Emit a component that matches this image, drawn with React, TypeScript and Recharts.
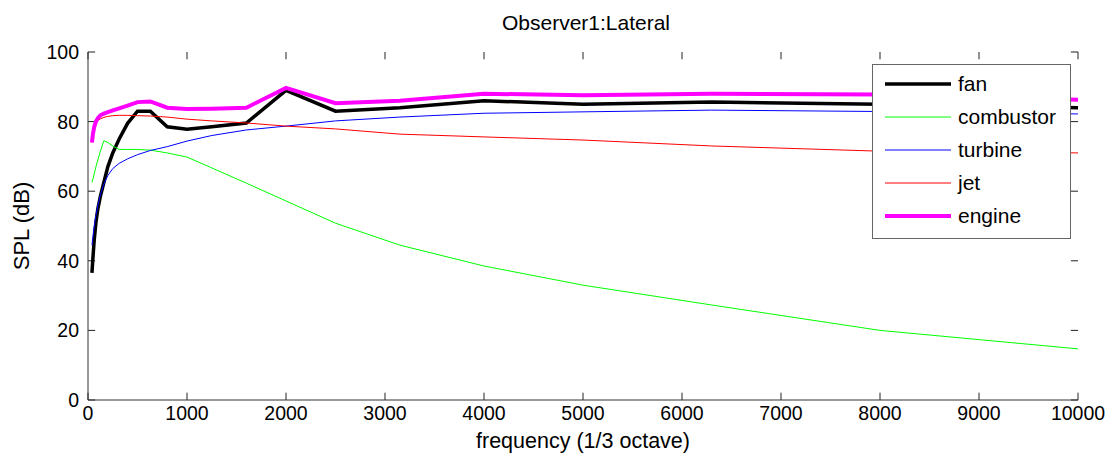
import React from "react";
import { LineChart, Line, XAxis, YAxis, ReferenceLine } from "recharts";

// 1/3 octave band centre frequencies (Hz)
const freqs = [40, 50, 63, 80, 100, 125, 160, 200, 250, 315, 400, 500, 630, 800, 1000, 1250, 1600, 2000, 2500, 3150, 4000, 5000, 6300, 8000, 10000];

const fan = [36.5, 41, 46, 51, 55, 58.5, 62.5, 67, 71, 75, 79.5, 83, 83, 78.5, 77.8, 78.5, 79.6, 89, 83, 84, 86, 85, 85.6, 85, 84];
const combustor = [62.5, 63.5, 65, 67, 69, 71.5, 74.5, 74, 73, 72, 72, 72, 71.8, 71, 69.8, 66.7, 62.3, 57.2, 50.8, 44.5, 38.5, 33, 27.3, 20, 14.7];
const turbine = [44.5, 47, 50, 53, 56, 59, 62, 64.5, 66.5, 68, 69.3, 70.5, 71.7, 72.8, 74.4, 76, 77.6, 78.7, 80.2, 81.3, 82.4, 82.8, 83.3, 82.9, 82.2];
const jet = [74, 76, 78, 79.5, 80.3, 80.8, 81.2, 81.5, 81.7, 81.8, 81.8, 81.7, 81.6, 81.3, 80.7, 80.2, 79.6, 78.7, 77.9, 76.4, 75.6, 74.7, 73, 71.5, 71];
const engine = [74, 76.5, 78.5, 80, 81, 81.8, 82.3, 82.7, 83.2, 83.8, 84.6, 85.6, 85.8, 84, 83.6, 83.7, 84, 89.7, 85.3, 86, 88, 87.6, 88, 87.8, 86.3];

const xTicks = [0, 1000, 2000, 3000, 4000, 5000, 6000, 7000, 8000, 9000, 10000];
const yTicks = [0, 20, 40, 60, 80, 100];

const series = [
  { key: "fan", color: "#000000", width: 3.5 },
  { key: "combustor", color: "#00ff00", width: 1 },
  { key: "turbine", color: "#0000ff", width: 1 },
  { key: "jet", color: "#ff0000", width: 1 },
  { key: "engine", color: "#ff00ff", width: 4 },
];

const data = freqs.map((f, i) => ({
  f,
  fan: fan[i],
  combustor: combustor[i],
  turbine: turbine[i],
  jet: jet[i],
  engine: engine[i],
}));

const font = "'Liberation Sans', Arial, sans-serif";
const W = 1112;
const H = 459;
const M = { top: 52, right: 34, bottom: 0, left: 0 };
const X_AXIS_H = 59;
const Y_AXIS_W = 88;
const plotBottom = H - M.bottom - X_AXIS_H;
const plotLeft = M.left + Y_AXIS_W;
const tickFont = 19.5;
// inward tick length in data units (~7px)
const TX = 72;
const TY = 2.1;

const bottomTick = (p: any) => (
  <text x={p.x} y={plotBottom + 20} textAnchor="middle" fontSize={tickFont} fontFamily={font} fill="#000">
    {p.payload.value}
  </text>
);
const leftTick = (p: any) => (
  <text x={plotLeft - 9} y={p.y + 7} textAnchor="end" fontSize={tickFont} fontFamily={font} fill="#000">
    {p.payload.value}
  </text>
);

function LegendBox() {
  return (
    <svg width={199} height={175} style={{ position: "absolute", left: 872, top: 64 }}>
      <rect x={0.5} y={0.5} width={198} height={174} fill="#fff" stroke="#666" />
      {series.map((s, i) => (
        <g key={s.key}>
          <line x1={13} x2={79} y1={20 + i * 33} y2={20 + i * 33} stroke={s.color} strokeWidth={s.width} />
          <text x={86} y={27 + i * 33} fontSize={21} fontFamily={font} fill="#000">
            {s.key}
          </text>
        </g>
      ))}
    </svg>
  );
}

export default function App() {
  return (
    <div style={{ position: "absolute", left: 0, top: 0, width: W, height: H, background: "#fff", fontFamily: font }}>
      <LineChart width={W} height={H} data={data} margin={M}>
        <XAxis
          dataKey="f"
          type="number"
          domain={[0, 10000]}
          ticks={xTicks}
          interval={0}
          height={X_AXIS_H}
          tickLine={false}
          stroke="#333"
          tick={bottomTick}
        />
        <XAxis
          xAxisId="top"
          orientation="top"
          type="number"
          dataKey="f"
          domain={[0, 10000]}
          ticks={xTicks}
          height={0}
          tickLine={false}
          tick={false}
          stroke="#333"
        />
        <YAxis
          type="number"
          domain={[0, 100]}
          ticks={yTicks}
          interval={0}
          width={Y_AXIS_W}
          tickLine={false}
          stroke="#333"
          tick={leftTick}
        />
        <YAxis
          yAxisId="right"
          orientation="right"
          type="number"
          domain={[0, 100]}
          ticks={yTicks}
          width={0}
          tickLine={false}
          tick={false}
          stroke="#333"
        />
        {xTicks.map((t) => (
          <ReferenceLine key={"b" + t} ifOverflow="visible" segment={[{ x: t, y: 0 }, { x: t, y: TY }]} stroke="#222" />
        ))}
        {xTicks.map((t) => (
          <ReferenceLine key={"t" + t} ifOverflow="visible" segment={[{ x: t, y: 100 - TY }, { x: t, y: 100 }]} stroke="#222" />
        ))}
        {yTicks.map((t) => (
          <ReferenceLine key={"l" + t} ifOverflow="visible" segment={[{ x: 0, y: t }, { x: TX, y: t }]} stroke="#222" />
        ))}
        {yTicks.map((t) => (
          <ReferenceLine key={"r" + t} ifOverflow="visible" segment={[{ x: 10000 - TX, y: t }, { x: 10000, y: t }]} stroke="#222" />
        ))}
        {series.map((s) => (
          <Line
            key={s.key}
            type="linear"
            dataKey={s.key}
            stroke={s.color}
            strokeWidth={s.width}
            dot={false}
            activeDot={false}
            isAnimationActive={false}
          />
        ))}
      </LineChart>
      <div style={{ position: "absolute", left: 0, width: 1172, top: 12, lineHeight: "22px", textAlign: "center", fontSize: 21 }}>
        Observer1:Lateral
      </div>
      <div style={{ position: "absolute", left: 0, width: 1166, top: 430, lineHeight: "22px", textAlign: "center", fontSize: 21.5 }}>
        frequency (1/3 octave)
      </div>
      <div
        style={{
          position: "absolute",
          left: 22,
          top: 226,
          fontSize: 22,
          lineHeight: "22px",
          transform: "translate(-50%, -50%) rotate(-90deg)",
          whiteSpace: "nowrap",
        }}
      >
        SPL (dB)
      </div>
      <LegendBox />
    </div>
  );
}
